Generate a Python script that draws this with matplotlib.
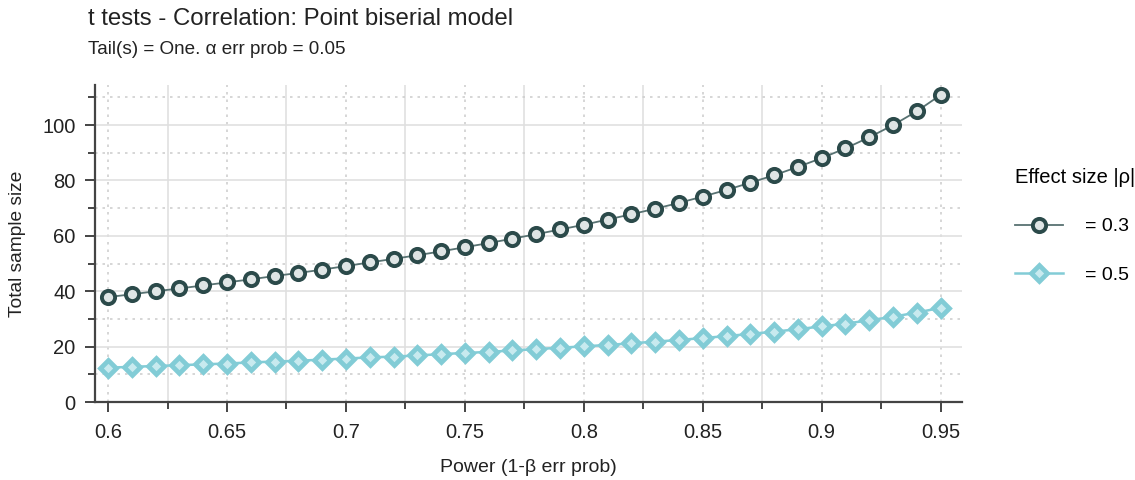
import numpy as np
import matplotlib
matplotlib.use("Agg")
from matplotlib import pyplot as plt
from matplotlib.ticker import MultipleLocator

plt.rcParams['font.family'] = ['Liberation Sans', 'DejaVu Sans']

# power values on the x axis
power = [0.60, 0.61, 0.62, 0.63, 0.64, 0.65, 0.66, 0.67, 0.68, 0.69,
         0.70, 0.71, 0.72, 0.73, 0.74, 0.75, 0.76, 0.77, 0.78, 0.79,
         0.80, 0.81, 0.82, 0.83, 0.84, 0.85, 0.86, 0.87, 0.88, 0.89,
         0.90, 0.91, 0.92, 0.93, 0.94, 0.95]

# total sample size, |rho| = 0.3
n_03 = [37.9, 38.9, 40.0, 41.0, 42.1, 43.2, 44.3, 45.5, 46.6, 47.8,
        49.1, 50.4, 51.7, 53.0, 54.4, 55.9, 57.4, 59.0, 60.6, 62.3,
        64.0, 65.9, 67.8, 69.8, 71.9, 74.2, 76.6, 79.2, 81.9, 84.9,
        88.1, 91.6, 95.6, 100.0, 105.0, 110.9]

# total sample size, |rho| = 0.5
n_05 = [12.4, 12.7, 13.0, 13.3, 13.6, 13.9, 14.3, 14.6, 14.9, 15.3,
        15.7, 16.1, 16.4, 16.8, 17.3, 17.7, 18.1, 18.6, 19.1, 19.6,
        20.1, 20.6, 21.2, 21.8, 22.4, 23.1, 23.8, 24.6, 25.4, 26.3,
        27.3, 28.3, 29.5, 30.8, 32.3, 34.0]

labels = ['= 0.3', '= 0.5']

dark = '#2b4a4a'
dark_line = '#587272'
light = '#82ccd6'

fig = plt.figure(figsize=(11.35, 4.8), dpi=100)
ax = fig.add_axes([0.0837, 0.1625, 0.7639, 0.6605])

ax.plot(power, n_03, color=dark_line, lw=1.3, marker='o', ms=9.5,
        mfc='#dfe5e5', mec=dark, mew=2.8, label=labels[0], zorder=3)
ax.plot(power, n_05, color=light, lw=1.8, marker='D', ms=8.5,
        mfc='#c8eaef', mec=light, mew=3.4, label=labels[1], zorder=3)

ax.set_xlim(0.5945, 0.959)
ax.set_ylim(0, 114.5)

ax.xaxis.set_major_locator(MultipleLocator(0.05))
ax.xaxis.set_minor_locator(MultipleLocator(0.025))
ax.yaxis.set_major_locator(MultipleLocator(20))
ax.yaxis.set_minor_locator(MultipleLocator(10))
ax.set_xticks([0.6, 0.65, 0.7, 0.75, 0.8, 0.85, 0.9, 0.95])
ax.set_xticklabels(['0.6', '0.65', '0.7', '0.75', '0.8', '0.85', '0.9', '0.95'])

# grid: y major solid, y minor dotted, x major dotted, x minor solid
ax.grid(which='major', axis='y', color='#e0e0e0', lw=1.2, ls='-')
ax.grid(which='minor', axis='y', color='#cfcfcf', lw=1.2, ls=(0, (1.5, 3)))
ax.grid(which='major', axis='x', color='#cfcfcf', lw=1.2, ls=(0, (1.5, 3)))
ax.grid(which='minor', axis='x', color='#e0e0e0', lw=1.2, ls='-')
ax.set_axisbelow(True)

for s in ['top', 'right']:
    ax.spines[s].set_visible(False)
for s in ['left', 'bottom']:
    ax.spines[s].set_color('#444444')
    ax.spines[s].set_linewidth(1.6)

ax.tick_params(which='major', length=7, width=1.4, color='#444444',
               labelsize=14.5, labelcolor='#222222', pad=8)
ax.tick_params(which='minor', length=5, width=1.4, color='#444444')
ax.tick_params(axis='y', which='major', pad=7)

ax.set_xlabel('Power (1-β err prob)', fontsize=14, color='#222222', labelpad=12)
ax.set_ylabel('Total sample size', fontsize=13.8, color='#222222', labelpad=12)

fig.text(0.0775, 0.948, 't tests - Correlation: Point biserial model',
         fontsize=17.3, color='#222222', va='baseline')
fig.text(0.0775, 0.888, 'Tail(s) = One. α err prob = 0.05',
         fontsize=13.6, color='#222222', va='baseline')

leg = fig.legend(loc='upper left', bbox_to_anchor=(0.887, 0.667),
                 title='Effect size |ρ|', frameon=False, fontsize=14,
                 title_fontsize=14.5, handlelength=2.5, labelspacing=1.6,
                 borderaxespad=0, handletextpad=1.1)
leg._legend_box.align = 'left'

fig.savefig('out.png', dpi=100)
